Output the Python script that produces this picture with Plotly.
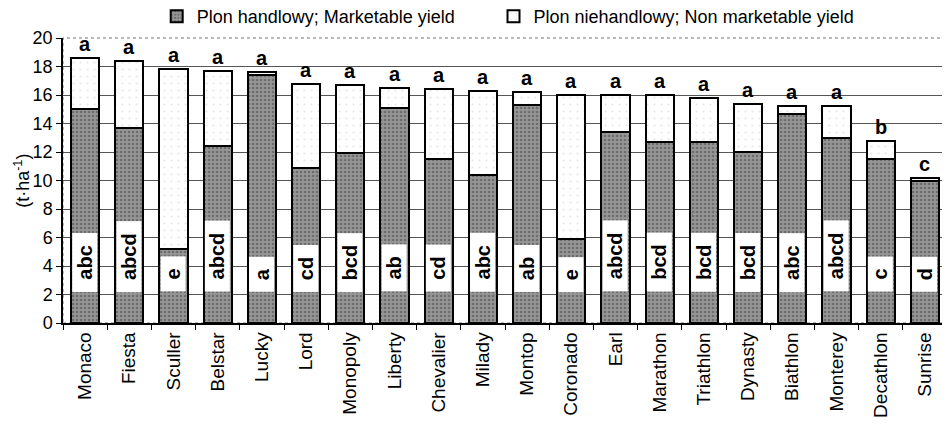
import plotly.graph_objects as go

cultivars = ["Monaco", "Fiesta", "Sculler", "Belstar", "Lucky", "Lord", "Monopoly", "Liberty",
             "Chevalier", "Milady", "Montop", "Coronado", "Earl", "Marathon", "Triathlon",
             "Dynasty", "Biathlon", "Monterey", "Decathlon", "Sunrise"]
marketable = [15.0, 13.7, 5.2, 12.4, 17.4, 10.9, 11.9, 15.1, 11.5, 10.4,
              15.3, 5.9, 13.4, 12.7, 12.7, 12.0, 14.7, 13.0, 11.5, 10.0]
total_yield = [18.6, 18.4, 17.8, 17.7, 17.6, 16.8, 16.7, 16.5, 16.4, 16.3,
               16.2, 16.0, 16.0, 16.0, 15.8, 15.4, 15.2, 15.2, 12.8, 10.2]
non_marketable = [round(t - m, 2) for t, m in zip(total_yield, marketable)]
total_letters = ["a"] * 18 + ["b", "c"]
marketable_letters = ["abc", "abcd", "e", "abcd", "a", "cd", "bcd", "ab", "cd", "abc",
                      "ab", "e", "abcd", "bcd", "bcd", "bcd", "abc", "abcd", "c", "d"]
y_ticks = [0, 2, 4, 6, 8, 10, 12, 14, 16, 18, 20]

FONT = "Liberation Sans, Arial, sans-serif"

fig = go.Figure()
fig.add_trace(go.Bar(
    x=cultivars, y=marketable, name="Plon handlowy; Marketable yield", legend="legend",
    marker=dict(color="#8a8a8a", line=dict(color="black", width=2),
                pattern=dict(shape=".", fgcolor="#444444", bgcolor="#969696", size=4, solidity=0.35)),
))
fig.add_trace(go.Bar(
    x=cultivars, y=non_marketable, name="Plon niehandlowy; Non marketable yield", legend="legend2",
    marker=dict(color="white", line=dict(color="black", width=2),
                pattern=dict(shape=".", fgcolor="#cfcfcf", bgcolor="white", size=7, solidity=0.08)),
))

annotations = []
for c, t, lab in zip(cultivars, total_yield, total_letters):
    annotations.append(dict(x=c, y=t, text="<b>%s</b>" % lab, showarrow=False,
                            yanchor="bottom", yshift=1, font=dict(size=20, family=FONT, color="black")))
for c, lab in zip(cultivars, marketable_letters):
    annotations.append(dict(x=c, y=2.15, text="<b>%s</b>" % lab, showarrow=False, textangle=-90,
                            yanchor="bottom", xanchor="center", bgcolor="white", borderpad=0,
                            width=len(lab) * 12 + 22, height=24,
                            font=dict(size=20, family=FONT, color="black")))
annotations.append(dict(xref="paper", yref="paper", x=-0.046, y=0.5, xanchor="center", yanchor="middle",
                        text="(t·ha<sup>-1</sup>)",
                        textangle=-90, showarrow=False, font=dict(size=18, family=FONT, color="black")))

legend_style = dict(orientation="h", yanchor="middle", y=1.075, xanchor="left",
                    font=dict(size=18, family=FONT), itemwidth=30, bgcolor="rgba(0,0,0,0)")

fig.update_layout(
    width=942, height=420,
    margin=dict(l=55, r=3, t=30, b=105, autoexpand=False),
    barmode="stack", bargap=0.36,
    paper_bgcolor="white", plot_bgcolor="white",
    font=dict(family=FONT, size=18, color="black"),
    showlegend=True,
    legend=dict(legend_style, x=0.106),
    legend2=dict(legend_style, x=0.487),
    annotations=annotations,
    shapes=[dict(type="rect", xref="paper", yref="paper", x0=0, x1=1, y0=0, y1=1,
                 line=dict(color="#777", width=1, dash="dot"), layer="below")],
)
fig.update_xaxes(type="category", tickangle=-90, ticks="outside", tickson="boundaries",
                 ticklen=5, tickcolor="black", showline=True, linecolor="black", linewidth=1.5,
                 tickfont=dict(size=19, family=FONT), automargin=False)
fig.update_yaxes(range=[0, 20], tickvals=y_ticks, ticks="outside", ticklen=5, tickcolor="black",
                 showline=True, linecolor="black", linewidth=1.5, showgrid=True,
                 gridcolor="#555", gridwidth=1, zeroline=False,
                 tickfont=dict(size=18, family=FONT), automargin=False)

fig.write_html("out.html")
